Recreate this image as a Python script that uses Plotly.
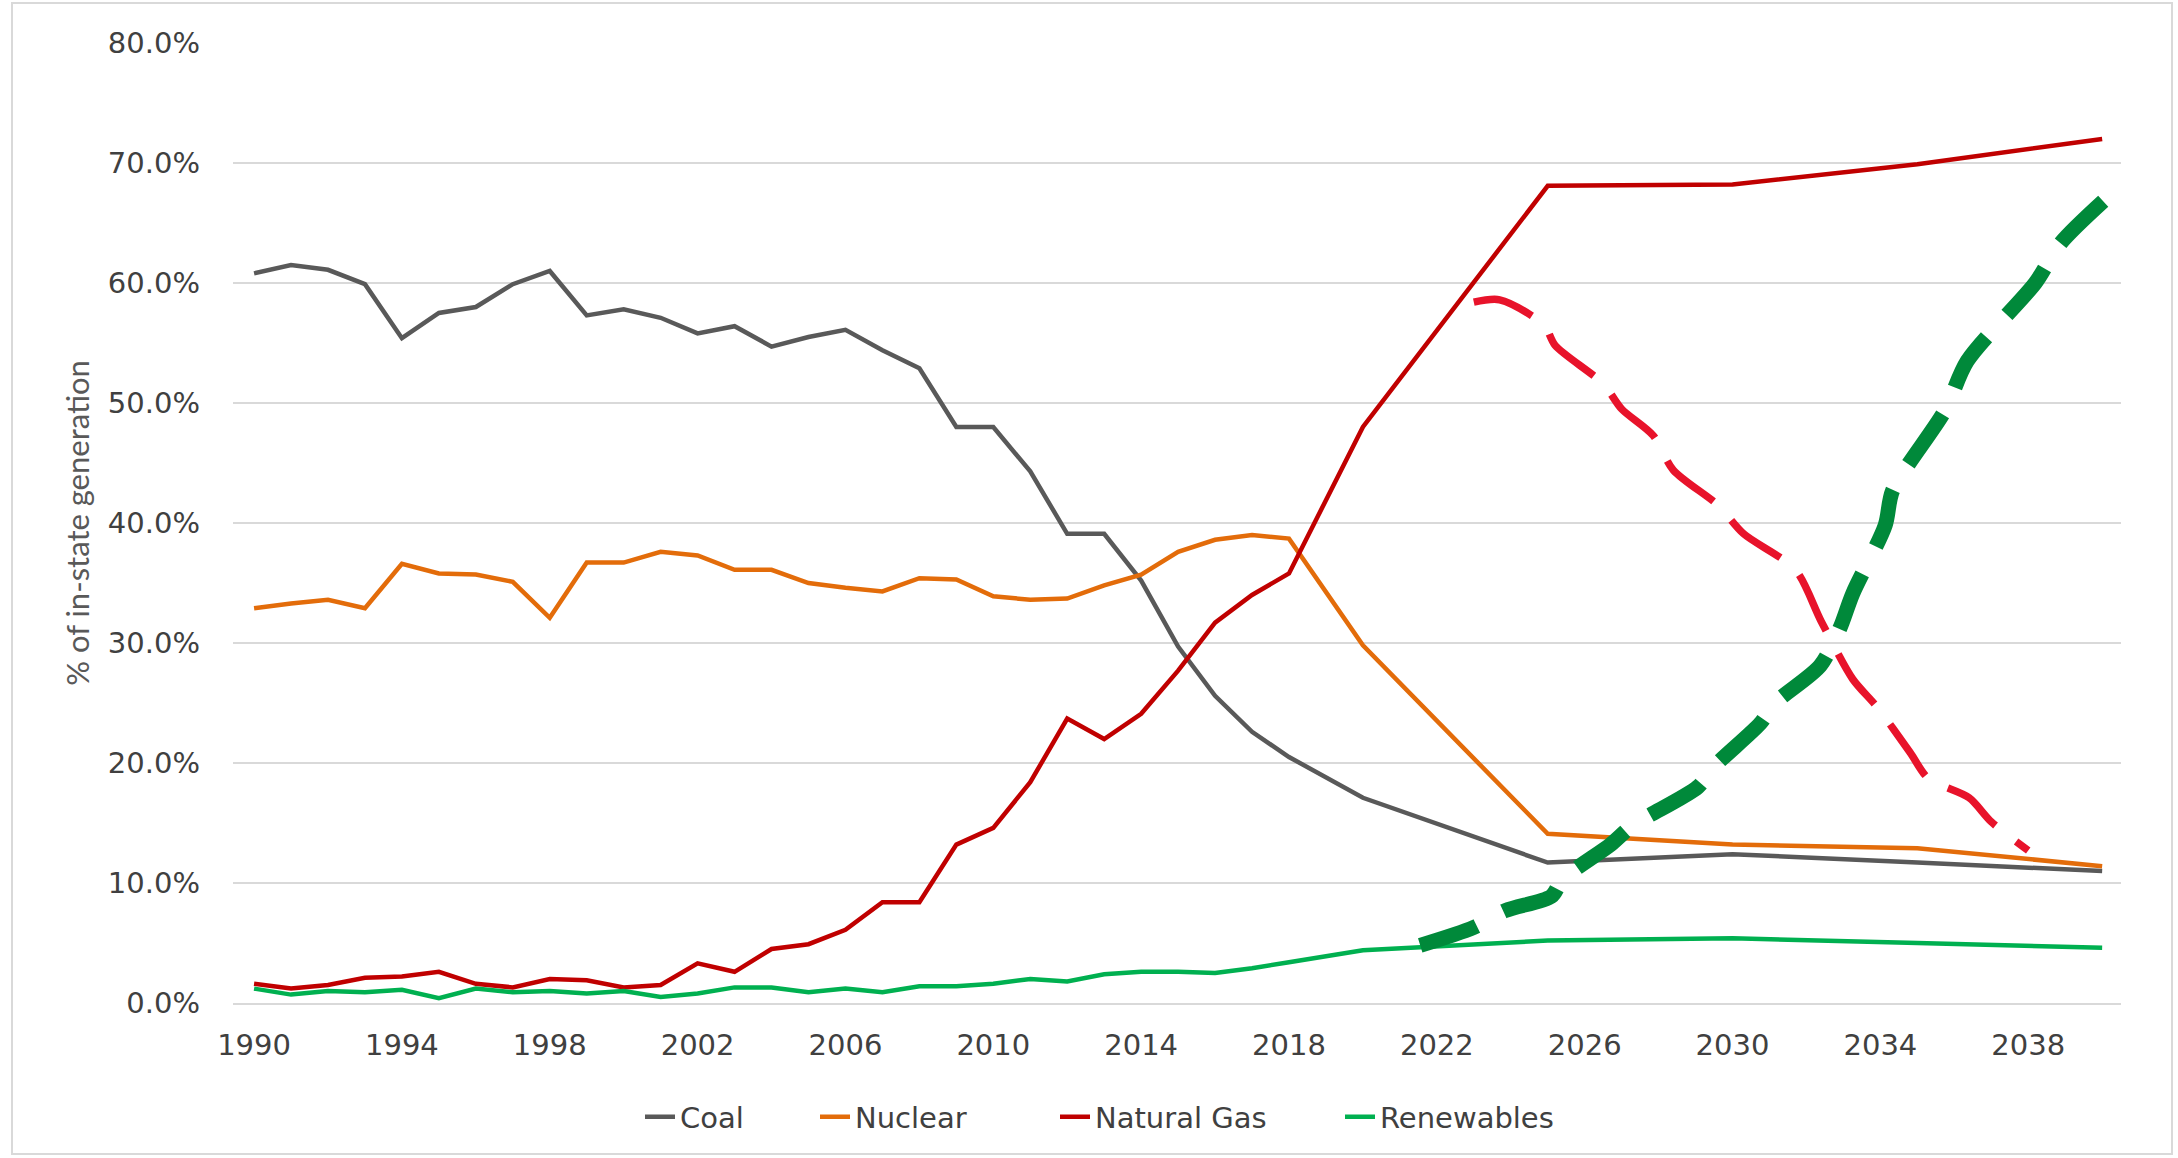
import plotly.graph_objects as go

# ---------------- data ----------------
YEARS = list(range(1990, 2019)) + [2020, 2025, 2030, 2035, 2040]

COAL = [60.8, 61.5, 61.1, 59.9, 55.4, 57.5, 58.0, 59.9, 61.0, 57.3,
        57.8, 57.1, 55.8, 56.4, 54.7, 55.5, 56.1, 54.4, 52.9, 48.0,
        48.0, 44.3, 39.1, 39.1, 35.2, 29.7, 25.6, 22.6, 20.5,
        17.1, 11.7, 12.4, 11.7, 11.0]

NUCLEAR = [32.9, 33.3, 33.6, 32.9, 36.6, 35.8, 35.7, 35.1, 32.1, 36.7,
           36.7, 37.6, 37.3, 36.1, 36.1, 35.0, 34.6, 34.3, 35.4, 35.3,
           33.9, 33.6, 33.7, 34.8, 35.7, 37.6, 38.6, 39.0, 38.7,
           29.8, 14.1, 13.2, 12.9, 11.4]

NATURAL_GAS = [1.6, 1.2, 1.5, 2.1, 2.2, 2.6, 1.6, 1.3, 2.0, 1.9,
               1.3, 1.5, 3.3, 2.6, 4.5, 4.9, 6.1, 8.4, 8.4, 13.2,
               14.6, 18.4, 23.7, 22.0, 24.1, 27.7, 31.7, 34.0, 35.8,
               48.0, 68.1, 68.2, 69.9, 72.0]

RENEWABLES = [1.2, 0.7, 1.0, 0.9, 1.1, 0.4, 1.2, 0.9, 1.0, 0.8,
              1.0, 0.5, 0.8, 1.3, 1.3, 0.9, 1.2, 0.9, 1.4, 1.4,
              1.6, 2.0, 1.8, 2.4, 2.6, 2.6, 2.5, 2.9, 3.4,
              4.4, 5.2, 5.4, 5.0, 4.6]

# hand-drawn overlay: gas decline (red dashed) and renewables rise (green dashed)
GAS_SKETCH_X = [2023.0, 2023.7, 2024.9, 2025.2, 2026.5, 2027.0, 2027.85, 2028.4,
                2029.6, 2030.3, 2031.7, 2032.4, 2033.25, 2033.9, 2034.8, 2035.3,
                2036.4, 2037.0, 2038.0]
GAS_SKETCH_Y = [58.4, 58.6, 56.5, 54.8, 51.6, 49.5, 47.3, 44.4,
                41.5, 39.1, 36.1, 31.8, 27.0, 24.7, 20.9, 18.7,
                17.1, 15.1, 12.7]

REN_SKETCH_X = [2021.55, 2023.0, 2023.85, 2025.1, 2025.4, 2026.7, 2027.3, 2029.06,
                2029.5, 2030.75, 2031.15, 2032.37, 2032.9, 2033.25, 2034.13, 2034.33,
                2035.75, 2036.35, 2038.19, 2038.87, 2040.49]
REN_SKETCH_Y = [4.8, 6.3, 7.7, 8.9, 10.3, 13.2, 14.8, 18.0,
                19.7, 23.3, 25.0, 28.1, 31.2, 34.1, 39.8, 42.7,
                49.4, 53.5, 60.0, 63.3, 68.1]

TICK_YEARS = list(range(1990, 2040, 4))
TICK_LABELS = [str(y) for y in TICK_YEARS]
Y_TICKS = [0, 10, 20, 30, 40, 50, 60, 70, 80]
Y_LABELS = ["%.1f%%" % v for v in Y_TICKS]

SERIES = [("Coal", COAL, "#595959", "legend"),
          ("Nuclear", NUCLEAR, "#E36C0A", "legend2"),
          ("Natural Gas", NATURAL_GAS, "#C00000", "legend3"),
          ("Renewables", RENEWABLES, "#00B050", "legend4")]

# ---------------- figure ----------------
fig = go.Figure()
for name, vals, color, lg in SERIES:
    fig.add_trace(go.Scatter(x=YEARS, y=vals, name=name, mode="lines",
                             line=dict(color=color, width=4.5),
                             legend=lg))

fig.add_trace(go.Scatter(x=GAS_SKETCH_X, y=GAS_SKETCH_Y, mode="lines",
                         line=dict(color="#E8132B", width=7.5, dash="62px,26px",
                                   shape="spline", smoothing=0.8),
                         showlegend=False, hoverinfo="skip"))
fig.add_trace(go.Scatter(x=REN_SKETCH_X, y=REN_SKETCH_Y, mode="lines",
                         line=dict(color="#00893A", width=15, dash="60px,30px",
                                   shape="spline", smoothing=0.8),
                         showlegend=False, hoverinfo="skip"))

L, R, T, B = 233, 57, 43, 155
W, H = 2178, 1158
pw, ph = W - L - R, H - T - B

def px_x(p):
    return (p - L) / pw

def px_y(p):
    return (H - B - p) / ph

legend_font = dict(family="DejaVu Sans, Verdana, sans-serif", size=29, color="#404040")
leg_common = dict(orientation="h", yanchor="middle", xanchor="left",
                  font=legend_font, bgcolor="rgba(0,0,0,0)", borderwidth=0)
text_starts = [680, 855, 1095, 1380]
legends = {}
for key, ts in zip(["legend", "legend2", "legend3", "legend4"], text_starts):
    legends[key] = dict(leg_common, x=px_x(ts - 40), y=px_y(1117))

fig.update_layout(
    width=W, height=H,
    margin=dict(l=L, r=R, t=T, b=B, autoexpand=False),
    paper_bgcolor="white", plot_bgcolor="white",
    font=dict(family="DejaVu Sans, Verdana, sans-serif", color="#404040"),
    xaxis=dict(range=[1989.43, 2040.51], tickvals=TICK_YEARS, ticktext=TICK_LABELS,
               showgrid=False, zeroline=False, showline=True, linecolor="#D9D9D9",
               linewidth=2, ticks="", ticklabelstandoff=15,
               tickfont=dict(family="DejaVu Sans, Verdana, sans-serif", size=29,
                             color="#404040")),
    yaxis=dict(range=[0, 80], tickvals=Y_TICKS, ticktext=Y_LABELS,
               showgrid=True, gridcolor="#D9D9D9", gridwidth=2, zeroline=False,
               ticks="", ticklabelstandoff=32,
               tickfont=dict(family="DejaVu Sans, Verdana, sans-serif", size=29,
                             color="#404040"),
               title=dict(text="% of in-state generation", standoff=9,
                          font=dict(family="Lato, Liberation Sans, sans-serif",
                                    size=31, color="#595959"))),
    shapes=[dict(type="rect", xref="paper", yref="paper",
                 x0=px_x(12), x1=px_x(2172), y0=px_y(1154), y1=px_y(3),
                 line=dict(color="#D9D9D9", width=2), fillcolor="rgba(0,0,0,0)",
                 layer="below")],
    **legends,
)

fig.write_html("out.html",
               config={"displayModeBar": False},
               post_script="document.body.style.margin='0';"
                           "document.body.style.overflow='hidden';")
